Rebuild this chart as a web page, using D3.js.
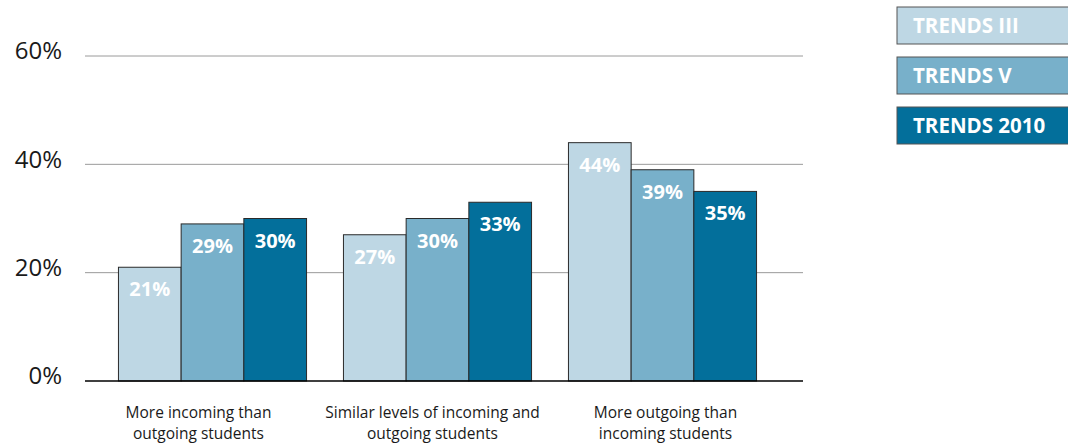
<!DOCTYPE html>
<html><head><meta charset="utf-8">
<script src="https://cdn.jsdelivr.net/npm/d3@7"></script>
<style>body{margin:0;background:#fff}svg{display:block}</style>
</head><body>
<svg id="c" width="1068" height="444"></svg>
<script>
const categories = [["More incoming than","outgoing students"],["Similar levels of incoming and","outgoing students"],["More outgoing than","incoming students"]];
const seriesNames = ["TRENDS III","TRENDS V","TRENDS 2010"];
const trendsIII = [21, 27, 44];
const trendsV = [29, 30, 39];
const trends2010 = [30, 33, 35];
const yTicks = [0, 20, 40, 60];
const colors = ["#BED7E4", "#78B0CA", "#036F9B"];

const series = [trendsIII, trendsV, trends2010];
const svg = d3.select("#c");
const font = "'Open Sans', sans-serif";

const y = d3.scaleLinear().domain([0, 60]).range([381, 56]);
const x0 = d3.scaleBand().domain(d3.range(categories.length)).range([100, 775]).paddingInner(0.164).paddingOuter(0.082);
const x1 = d3.scaleBand().domain(d3.range(series.length)).range([0, x0.bandwidth()]);

// gridlines
svg.append("g").selectAll("line").data(yTicks.filter(d => d > 0)).join("line")
  .attr("x1", 85).attr("x2", 803).attr("y1", d => y(d)).attr("y2", d => y(d))
  .attr("stroke", "#9a9a9a").attr("stroke-width", 1);

// y tick labels
svg.append("g").selectAll("text").data(yTicks).join("text")
  .attr("x", 62).attr("y", d => y(d) - 5).attr("dy", "0.35em")
  .attr("text-anchor", "end").attr("font-family", font).attr("font-size", 24)
  .attr("fill", "#1a1a1a").text(d => d + "%");

// bars
const groups = svg.append("g").selectAll("g").data(categories).join("g")
  .attr("transform", (d, i) => `translate(${x0(i)},0)`);
groups.each(function(c, ci) {
  const g = d3.select(this);
  series.forEach((s, si) => {
    g.append("rect").attr("x", x1(si)).attr("y", y(s[ci]))
      .attr("width", x1.bandwidth()).attr("height", y(0) - y(s[ci]))
      .attr("fill", colors[si]).attr("stroke", "#2a2a2a").attr("stroke-width", 1);
    g.append("text").attr("x", x1(si) + x1.bandwidth() / 2).attr("y", y(s[ci]) + 29)
      .attr("text-anchor", "middle").attr("font-family", font).attr("font-weight", "bold")
      .attr("font-size", 20).attr("fill", "#fff").text(s[ci] + "%");
  });
  c.forEach((line, li) => g.append("text").attr("text-anchor", "middle").attr("font-family", font)
    .attr("font-size", 15.5).attr("fill", "#1a1a1a")
    .attr("x", x0.bandwidth() / 2 - (ci === 0 ? 14 : ci === 1 ? 5 : -3)).attr("y", 418 + li * 21).text(line));
});

// baseline
svg.append("line").attr("x1", 85).attr("x2", 803).attr("y1", y(0)).attr("y2", y(0))
  .attr("stroke", "#000").attr("stroke-width", 1.5);

// legend
const lg = svg.append("g").selectAll("g").data(seriesNames).join("g")
  .attr("transform", (d, i) => `translate(897,${7 + i * 50})`);
lg.append("rect").attr("x", 0).attr("y", 0).attr("width", 180).attr("height", 37)
  .attr("fill", (d, i) => colors[i]).attr("stroke", "#555").attr("stroke-width", 1);
lg.append("text").attr("x", 16).attr("y", 26).attr("font-family", font).attr("font-weight", "bold")
  .attr("font-size", 20.5).attr("fill", "#fff").text(d => d);
</script>
</body></html>
